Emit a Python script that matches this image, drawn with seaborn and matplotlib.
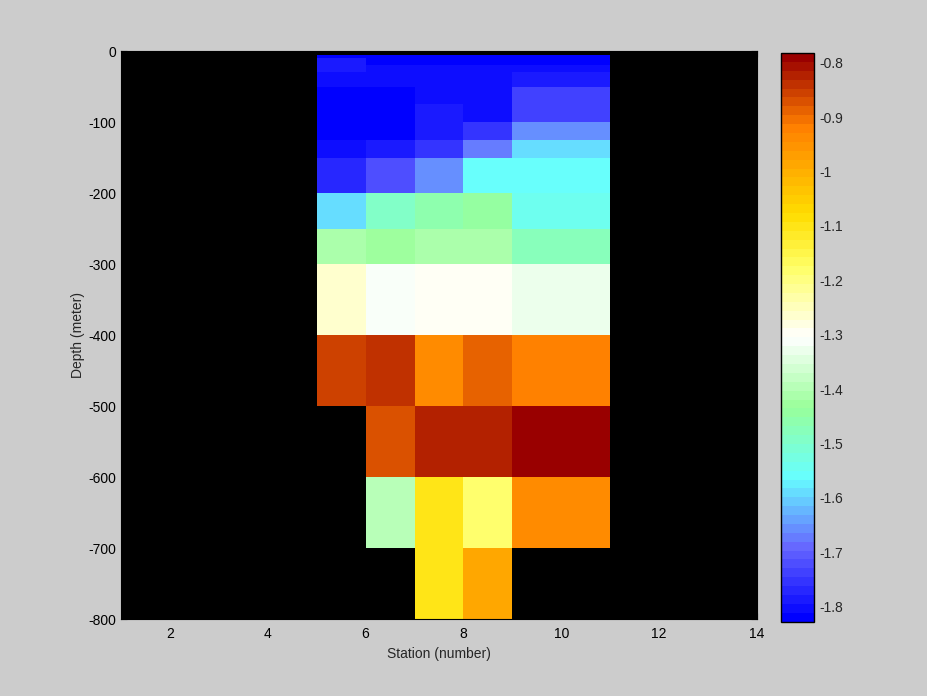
import numpy as np
import matplotlib
matplotlib.use('Agg')
import matplotlib.pyplot as plt
import seaborn as sns
from matplotlib.colors import LinearSegmentedColormap

# cell edges (stations along x, depth in metres along y)
station_edges = [5, 6, 7, 8, 9, 11]
depth_edges = [5, 10, 20, 30, 50, 75, 100, 125, 150, 200, 250, 300, 400, 500, 600, 700, 800]

nan = np.nan
# one list per station column, top to bottom
st5 = [-1.819, -1.787, -1.787, -1.803, -1.819, -1.819, -1.819, -1.803, -1.770, -1.591,
       -1.411, -1.264, -0.856, nan, nan, nan]
st6 = [-1.819, -1.819, -1.803, -1.803, -1.819, -1.819, -1.819, -1.787, -1.721, -1.493,
       -1.427, -1.313, -0.839, -0.872, -1.395, nan]
st7 = [-1.819, -1.819, -1.803, -1.803, -1.803, -1.787, -1.787, -1.754, -1.656, -1.460,
       -1.411, -1.297, -0.937, -0.823, -1.101, -1.101]
st8 = [-1.819, -1.819, -1.803, -1.803, -1.803, -1.803, -1.754, -1.672, -1.558, -1.444,
       -1.411, -1.297, -0.888, -0.823, -1.182, -0.986]
st9 = [-1.819, -1.819, -1.803, -1.787, -1.738, -1.738, -1.656, -1.591, -1.558, -1.542,
       -1.476, -1.329, -0.921, -0.790, -0.937, nan]

cbar_ticks = [-1.8, -1.7, -1.6, -1.5, -1.4, -1.3, -1.2, -1.1, -1.0, -0.9, -0.8]
vmin, vmax = -1.8276, -0.782

# colormap nodes
cm_pos = [0.0, 0.125, 0.25, 0.375, 0.5, 0.625, 0.72, 0.875, 1.0]
cm_col = ['#0000ff', '#6666ff', '#66ffff', '#99ff99', '#ffffff',
          '#ffff66', '#ffdd00', '#ff8000', '#990000']
cmap = LinearSegmentedColormap.from_list('section', list(zip(cm_pos, cm_col)), N=64)

sns.set_style('ticks', {'axes.facecolor': 'black', 'figure.facecolor': '#cccccc',
                        'axes.edgecolor': 'black', 'xtick.direction': 'in',
                        'ytick.direction': 'in'})
plt.rcParams['font.family'] = ['Liberation Sans', 'DejaVu Sans']
plt.rcParams['axes.unicode_minus'] = False

Z = np.ma.masked_invalid(np.array([st5, st6, st7, st8, st9]).T)

fig = plt.figure(figsize=(9.28, 6.96), dpi=100)
ax = fig.add_axes([0.1304, 0.1106, 0.6853, 0.8161])
mesh = ax.pcolormesh(station_edges, -np.array(depth_edges), Z, cmap=cmap,
                     vmin=vmin, vmax=vmax, shading='flat')
ax.set_facecolor('black')
ax.set_xlim(1, 14)
ax.set_ylim(-800, 0)
ax.set_xticks(range(2, 15, 2))
ax.set_yticks(range(-800, 1, 100))
ax.tick_params(labelsize=10, length=4, top=True, right=True, colors='black')
ax.tick_params(axis='x', pad=6)
ax.set_xlabel('Station (number)', fontsize=10, labelpad=4)
ax.set_ylabel('Depth (meter)', fontsize=10, labelpad=2)
for s in ax.spines.values():
    s.set_color('black')

cax = fig.add_axes([0.8416, 0.1068, 0.0356, 0.817])
cb = fig.colorbar(mesh, cax=cax, ticks=cbar_ticks)
cb.ax.set_yticklabels(['%g' % t for t in cbar_ticks])
cb.ax.tick_params(labelsize=10, direction='in', length=4, left=True, right=True)
cb.outline.set_edgecolor('black')
cb.outline.set_linewidth(1)

fig.savefig('out.png', dpi=100, facecolor='#cccccc')
